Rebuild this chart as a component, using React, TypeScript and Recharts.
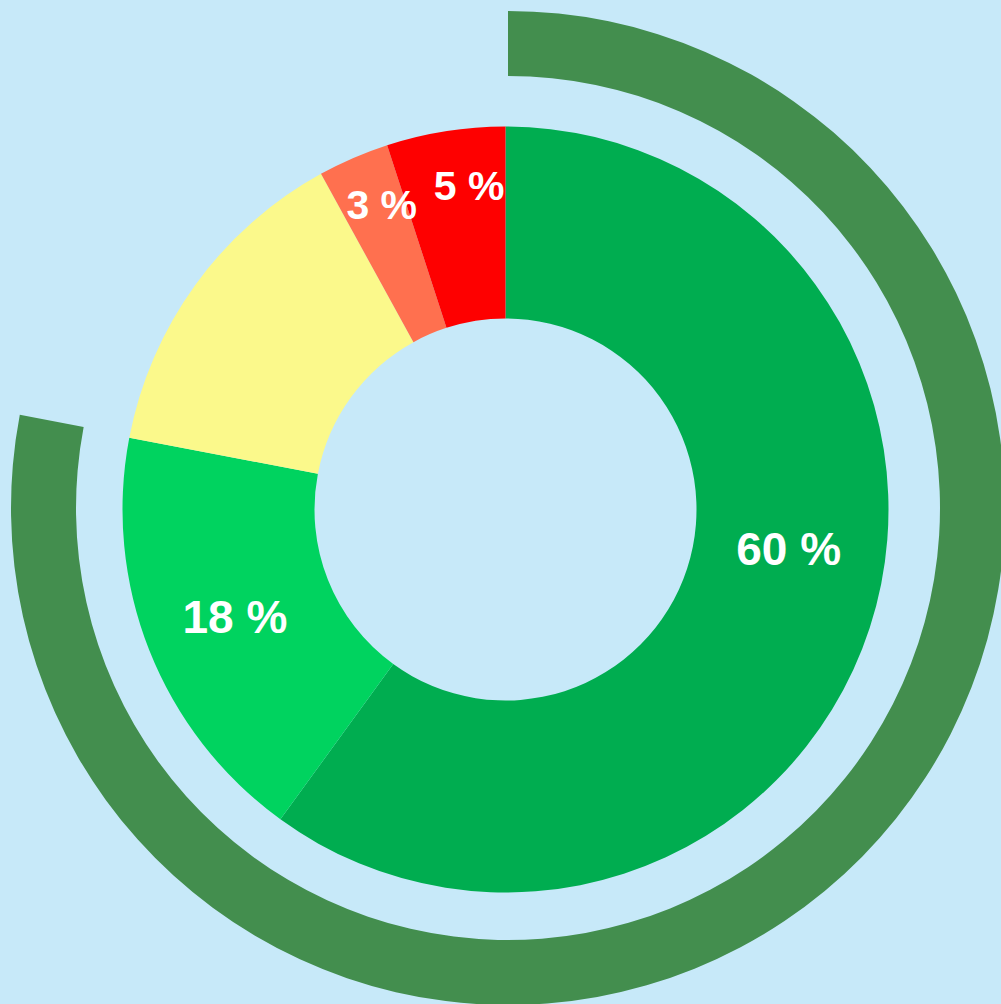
import React from "react";
import { PieChart, Pie, Cell } from "recharts";

// Inner donut: share of each category (percent), clockwise from 12 o'clock
const categories = ["Sehr gut", "Gut", "Mittel", "Schlecht", "Sehr schlecht"];
const shares = [60, 18, 14, 3, 5];
const labels = ["60 %", "18 %", "", "3 %", "5 %"];

// Outer ring: total of the two green categories
const ringValues = [78, 22];

const sliceColors = ["#00AD50", "#00D35F", "#FBF98B", "#FF704F", "#FE0000"];
const ringColors = ["#438E4E", "transparent"];
const BG = "#C7E9F9";

// label placement tweaks (layout only)
const LABEL_ANGLE_SHIFT = [10, 0, 0, -1.3, -2.6];
const LABEL_RADIUS = [286, 291, 0, 329, 326];
const LABEL_SIZE = [46, 46, 46, 41, 41];

const W = 1001;
const H = 1004;
const CX = 505.5;
const CY = 509.5;
const RING_CX = 508;
const RING_CY = 508;

const innerData = categories.map((name, i) => ({ name, value: shares[i], label: labels[i] }));
const ringData = ringValues.map((value, i) => ({ name: i === 0 ? "grün" : "rest", value }));

const RAD = Math.PI / 180;

const renderLabel = (props: any) => {
  const { cx, cy, midAngle, index } = props;
  const text = labels[index];
  if (!text) return null;
  const a = (midAngle + LABEL_ANGLE_SHIFT[index]) * RAD;
  const r = LABEL_RADIUS[index];
  const x = cx + r * Math.cos(-a);
  const y = cy + r * Math.sin(-a);
  return (
    <text
      x={x}
      y={y}
      fill="#FFFFFF"
      textAnchor="middle"
      dominantBaseline="central"
      fontFamily="'Liberation Sans', Arial, sans-serif"
      fontWeight="bold"
      fontSize={LABEL_SIZE[index]}
    >
      {text}
    </text>
  );
};

export default function App() {
  return (
    <div
      style={{
        position: "fixed",
        left: 0,
        top: 0,
        width: W,
        height: H,
        background: BG,
        overflow: "hidden",
      }}
    >
      <PieChart width={W} height={H} margin={{ top: 0, right: 0, bottom: 0, left: 0 }}>
        <Pie
          data={ringData}
          dataKey="value"
          cx={RING_CX}
          cy={RING_CY}
          innerRadius={432}
          outerRadius={497}
          startAngle={90}
          endAngle={-270}
          stroke="none"
          isAnimationActive={false}
          label={false}
          labelLine={false}
        >
          {ringData.map((d, i) => (
            <Cell key={d.name} fill={ringColors[i]} />
          ))}
        </Pie>
        <Pie
          data={innerData}
          dataKey="value"
          cx={CX}
          cy={CY}
          innerRadius={191}
          outerRadius={383}
          startAngle={90}
          endAngle={-270}
          stroke="none"
          isAnimationActive={false}
          label={renderLabel}
          labelLine={false}
        >
          {innerData.map((d, i) => (
            <Cell key={d.name} fill={sliceColors[i]} />
          ))}
        </Pie>
      </PieChart>
    </div>
  );
}
